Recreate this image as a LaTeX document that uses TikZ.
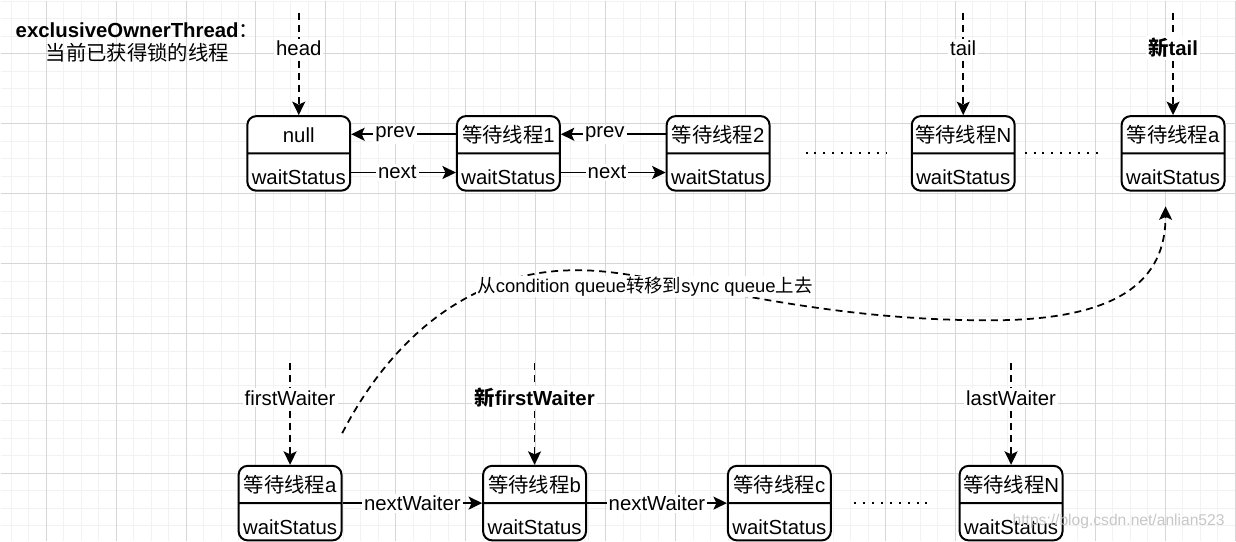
\documentclass[tikz,border=0pt]{standalone}
\usepackage{fontspec}
\setmainfont{Liberation Sans}
\newfontfamily\cjk{Noto Sans CJK SC}
\usepackage{xcolor}
\usetikzlibrary{shapes.multipart,arrows.meta,positioning,calc}

\definecolor{gridminor}{HTML}{F2F2F2}
\definecolor{gridmajor}{HTML}{D6D6D6}
\newcommand{\zh}[1]{{\cjk #1}}
\newcommand{\topstrut}{\rule[-0.19cm]{0pt}{0.706cm}}
\newcommand{\botstrut}{\rule[-0.1cm]{0pt}{0.706cm}}

\begin{document}
\begin{tikzpicture}[
    x=0.02cm, y=-0.02cm,
    font=\fontsize{11.6pt}{13.6pt}\selectfont,
    thread/.style={rectangle split, rectangle split parts=2, draw, line width=0.04cm, rounded corners=0.18cm, fill=white, text width=2.02cm, align=center, inner xsep=0.02cm, inner ysep=0cm},
    line/.style={draw, line width=0.035cm, -{Stealth[length=0.27cm, width=0.26cm, inset=0.06cm]}},
    ptr/.style={line, dash pattern=on 0.14cm off 0.1cm},
    lbl/.style={fill=white, inner sep=0.04cm},
    dots/.style={draw, line width=0.04cm, dash pattern=on 0.04cm off 0.138cm}
]

% background grid
\fill[white] (0,0) rectangle (1236,541);
\foreach \x in {10.7,28.2,...,1236} \draw[gridminor, line width=0.02cm] (\x,0) -- (\x,541);
\foreach \y in {0.8,18.3,...,541} \draw[gridminor, line width=0.02cm] (0,\y) -- (1236,\y);
\foreach \x in {45.7,115.7,...,1236} \draw[gridmajor, line width=0.02cm] (\x,0) -- (\x,541);
\foreach \y in {53.3,123.3,...,541} \draw[gridmajor, line width=0.02cm] (0,\y) -- (1236,\y);
\useasboundingbox (0,0) rectangle (1236,541);

% owner
\node[align=center] (owner) at (137,42) {\textbf{exclusiveOwnerThread}\zh{：}\\\zh{当前已获得锁的线程}};

% sync queue
\node[thread] (null) at (298.5,153) {\topstrut null\nodepart{two}\botstrut waitStatus};
\node[thread] (w1) at (508.3,153) {\topstrut\zh{等待线程}1\nodepart{two}\botstrut waitStatus};
\node[thread] (w2) at (718.2,153) {\topstrut\zh{等待线程}2\nodepart{two}\botstrut waitStatus};
\node[thread] (wN) at (963.5,153) {\topstrut\zh{等待线程}N\nodepart{two}\botstrut waitStatus};
\node[thread] (wa) at (1173.5,153) {\topstrut\zh{等待线程}a\nodepart{two}\botstrut waitStatus};

% condition queue
\node[thread] (qa) at (289.8,503) {\topstrut\zh{等待线程}a\nodepart{two}\botstrut waitStatus};
\node[thread] (qb) at (534.5,503) {\topstrut\zh{等待线程}b\nodepart{two}\botstrut waitStatus};
\node[thread] (qc) at (779.5,503) {\topstrut\zh{等待线程}c\nodepart{two}\botstrut waitStatus};
\node[thread] (qN) at (1011.4,503) {\topstrut\zh{等待线程}N\nodepart{two}\botstrut waitStatus};

% pointers
\coordinate (headsrc) at (298.5,13);
\coordinate (tailsrc) at (963.5,13);
\coordinate (newtailsrc) at (1173.5,13);
\coordinate (firstsrc) at (289.8,363);
\coordinate (newfirstsrc) at (534.5,363);
\coordinate (lastsrc) at (1011.4,363);
\path[ptr] (headsrc) -- (null) node[lbl, pos=0.34] {head};
\path[ptr] (tailsrc) -- (wN) node[lbl, pos=0.34] {tail};
\path[ptr] (newtailsrc) -- (wa) node[lbl, pos=0.34] {\bfseries\zh{新}tail};
\path[ptr] (firstsrc) -- (qa) node[lbl, pos=0.34] {firstWaiter};
\path[ptr] (newfirstsrc) -- (qb) node[lbl, pos=0.34] {\bfseries\zh{新}firstWaiter};
\path[ptr] (lastsrc) -- (qN) node[lbl, pos=0.34] {lastWaiter};

% prev / next
\path[line] ($(w1.north west)!.25!(w1.south west)$) -- ($(null.north east)!.25!(null.south east)$) node[lbl, pos=0.58] {prev};
\path[line] ($(null.north east)!.75!(null.south east)$) -- ($(w1.north west)!.75!(w1.south west)$) node[lbl, pos=0.44] {next};
\path[line] ($(w2.north west)!.25!(w2.south west)$) -- ($(w1.north east)!.25!(w1.south east)$) node[lbl, pos=0.58] {prev};
\path[line] ($(w1.north east)!.75!(w1.south east)$) -- ($(w2.north west)!.75!(w2.south west)$) node[lbl, pos=0.44] {next};
\path[dots, shorten <=0.7cm, shorten >=0.5cm] (w2.east) -- (wN.west);
\path[dots, shorten <=0.18cm, shorten >=0.32cm] (wN.east) -- (wa.west);

% nextWaiter
\path[line] (qa.east) -- (qb.west) node[lbl, midway] {nextWaiter};
\path[line] (qb.east) -- (qc.west) node[lbl, midway] {nextWaiter};
\path[dots, shorten <=0.45cm, shorten >=0.49cm] (qc.east) -- (qN.west);

% transfer
\coordinate (movesrc) at (342,433);
\coordinate (movedst) at (1166,206);
\path[ptr] (movesrc) .. controls (390,340) and (470,268) .. (580,270) .. controls (660,270) and (800,322) .. (1000,320) .. controls (1120,318) and (1166,280) .. (movedst);
\node[lbl, inner sep=0.02cm, font=\fontsize{10.5pt}{12pt}\selectfont] (movelbl) at (645,286) {\zh{从}condition queue\zh{转移到}sync queue\zh{上去}};

% watermark
\node[text=black!22, font=\fontsize{8.9pt}{10pt}\selectfont] (mark) at (1119,521) {https://blog.csdn.net/anlian523};

\end{tikzpicture}
\end{document}
